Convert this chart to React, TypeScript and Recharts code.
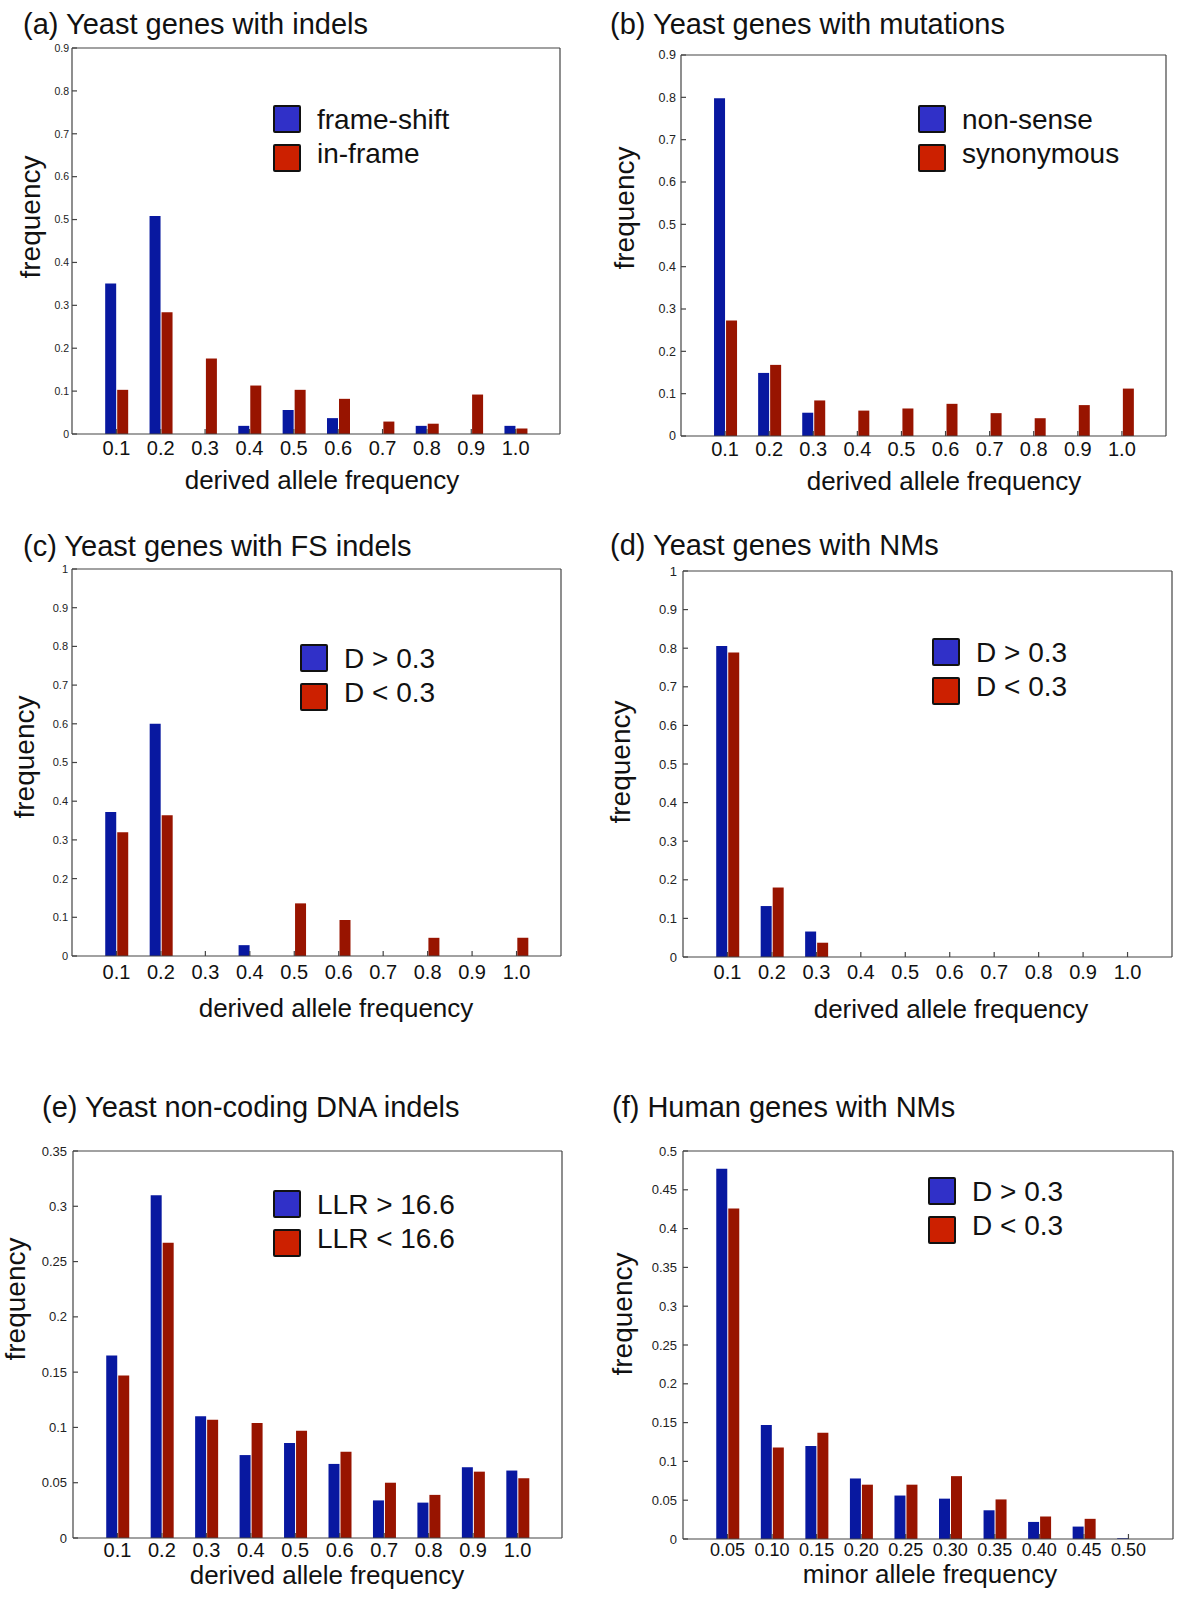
import { BarChart, Bar, XAxis, YAxis } from "recharts"

const FONT = '"Liberation Sans", Arial, Helvetica, sans-serif'
const BAR_BLUE = "#0818a0"
const BAR_RED = "#981400"
const KEY_BLUE = "#3030c8"
const KEY_RED = "#cc2000"
const AXIS = "#444"

const derivedBins = ["0.1", "0.2", "0.3", "0.4", "0.5", "0.6", "0.7", "0.8", "0.9", "1.0"]
const minorBins = ["0.05", "0.10", "0.15", "0.20", "0.25", "0.30", "0.35", "0.40", "0.45", "0.50"]

// (a) yeast genes with indels
const frameShift = [0.351, 0.508, 0, 0.019, 0.056, 0.037, 0, 0.019, 0, 0.019]
const inFrame = [0.103, 0.284, 0.176, 0.113, 0.103, 0.082, 0.029, 0.024, 0.092, 0.013]
// (b) yeast genes with mutations
const nonSense = [0.798, 0.149, 0.055, 0, 0, 0, 0, 0, 0, 0]
const synonymous = [0.273, 0.168, 0.084, 0.06, 0.065, 0.076, 0.054, 0.042, 0.073, 0.112]
// (c) yeast genes with FS indels
const fsHighD = [0.372, 0.6, 0, 0.028, 0, 0, 0, 0, 0, 0]
const fsLowD = [0.32, 0.364, 0, 0, 0.136, 0.093, 0, 0.047, 0, 0.047]
// (d) yeast genes with NMs
const nmHighD = [0.806, 0.132, 0.066, 0, 0, 0, 0, 0, 0, 0]
const nmLowD = [0.789, 0.18, 0.037, 0, 0, 0, 0, 0, 0, 0]
// (e) yeast non-coding DNA indels
const llrHigh = [0.165, 0.31, 0.11, 0.075, 0.086, 0.067, 0.034, 0.032, 0.064, 0.061]
const llrLow = [0.147, 0.267, 0.107, 0.104, 0.097, 0.078, 0.05, 0.039, 0.06, 0.054]
// (f) human genes with NMs
const humanHighD = [0.477, 0.147, 0.12, 0.078, 0.056, 0.052, 0.037, 0.022, 0.016, 0.001]
const humanLowD = [0.426, 0.118, 0.137, 0.07, 0.07, 0.081, 0.051, 0.029, 0.026, 0]

const ticks09 = [0, 0.1, 0.2, 0.3, 0.4, 0.5, 0.6, 0.7, 0.8, 0.9]
const ticks10 = [0, 0.1, 0.2, 0.3, 0.4, 0.5, 0.6, 0.7, 0.8, 0.9, 1]
const ticks035 = [0, 0.05, 0.1, 0.15, 0.2, 0.25, 0.3, 0.35]
const ticks05 = [0, 0.05, 0.1, 0.15, 0.2, 0.25, 0.3, 0.35, 0.4, 0.45, 0.5]

const fmt = (v: number) => String(Number(v.toFixed(2)))

type PanelProps = {
  box: { l: number; r: number; t: number; b: number }
  title: string
  titleAt: [number, number]
  cats: string[]
  blue: number[]
  red: number[]
  yTicks: number[]
  yFont: number
  yGap: number
  xFont: number
  xMargin: number
  keys: [string, string]
  keyAt: [number, number]
  xTitle: string
  xTitleAt: [number, number]
  yTitleAt: [number, number]
}

function Panel(p: PanelProps) {
  const w = p.box.r - p.box.l
  const h = p.box.b - p.box.t
  const padL = 60
  const padT = 10
  const padR = 10
  const padB = 40
  const rows = p.cats.map((c, i) => ({ cat: c, blue: p.blue[i], red: p.red[i] }))
  const yMax = p.yTicks[p.yTicks.length - 1]
  const pad = w / 22

  return (
    <>
      <div
        style={{
          position: "absolute",
          left: p.titleAt[0],
          top: p.titleAt[1] - 17,
          fontSize: 29,
          lineHeight: 1,
          whiteSpace: "nowrap",
          color: "#111",
        }}
      >
        {p.title}
      </div>
      <div style={{ position: "absolute", left: p.box.l - padL, top: p.box.t - padT }}>
        <BarChart
          width={w + padL + padR}
          height={h + padT + padB}
          data={rows}
          margin={{ top: padT - 1, right: padR - 1, left: 0, bottom: 0 }}
          barGap={1}
          barSize={11}
        >
          <XAxis
            xAxisId="bottom"
            dataKey="cat"
            height={padB}
            interval={0}
            padding={{ left: pad, right: pad }}
            tickSize={-5}
            tickMargin={p.xMargin}
            tick={{ fontSize: p.xFont, fill: "#111", fontFamily: FONT }}
            stroke={AXIS}
            strokeWidth={1.2}
          />
          <XAxis
            xAxisId="top"
            dataKey="cat"
            orientation="top"
            height={1}
            interval={0}
            padding={{ left: pad, right: pad }}
            tickSize={-5}
            tick={false}
            stroke={AXIS}
            strokeWidth={1.2}
          />
          <YAxis
            yAxisId="left"
            width={padL}
            domain={[0, yMax]}
            ticks={p.yTicks}
            interval={0}
            allowDataOverflow
            tickFormatter={fmt}
            tickSize={-5}
            tickMargin={5 + p.yGap}
            tick={{ fontSize: p.yFont, fill: "#222", fontFamily: FONT }}
            stroke={AXIS}
            strokeWidth={1.2}
          />
          <YAxis
            yAxisId="right"
            orientation="right"
            width={1}
            domain={[0, yMax]}
            ticks={p.yTicks}
            interval={0}
            allowDataOverflow
            tickSize={-5}
            tick={false}
            stroke={AXIS}
            strokeWidth={1.2}
          />
          <Bar xAxisId="bottom" yAxisId="left" dataKey="blue" fill={BAR_BLUE} isAnimationActive={false} />
          <Bar xAxisId="bottom" yAxisId="left" dataKey="red" fill={BAR_RED} isAnimationActive={false} />
        </BarChart>
      </div>
      <div style={{ position: "absolute", left: p.keyAt[0], top: p.keyAt[1] }}>
        {p.keys.map((k, i) => (
          <div key={k}>
            <div
              style={{
                position: "absolute",
                left: 0,
                top: i * 39,
                width: 24,
                height: 24,
                border: "2px solid #111",
                borderRadius: 2,
                background: i === 0 ? KEY_BLUE : KEY_RED,
              }}
            />
            <div
              style={{
                position: "absolute",
                left: 44,
                top: 1.4 + i * 34,
                fontSize: 28,
                lineHeight: 1,
                whiteSpace: "nowrap",
                color: "#111",
              }}
            >
              {k}
            </div>
          </div>
        ))}
      </div>
      <div
        style={{
          position: "absolute",
          left: p.xTitleAt[0],
          top: p.xTitleAt[1] - 15.2,
          transform: "translateX(-50%)",
          fontSize: 26,
          lineHeight: 1,
          whiteSpace: "nowrap",
          color: "#111",
        }}
      >
        {p.xTitle}
      </div>
      <div
        style={{
          position: "absolute",
          left: p.yTitleAt[0] - 2.4,
          top: p.yTitleAt[1],
          transform: "translate(-50%, -50%) rotate(-90deg)",
          fontSize: 28,
          lineHeight: 1,
          whiteSpace: "nowrap",
          color: "#111",
        }}
      >
        frequency
      </div>
    </>
  )
}

export default function App() {
  return (
    <div
      style={{
        position: "absolute",
        left: 0,
        top: 0,
        width: 1200,
        height: 1607,
        background: "#fff",
        fontFamily: FONT,
        overflow: "hidden",
      }}
    >
      <Panel
        box={{ l: 72, r: 560, t: 48, b: 434 }}
        title="(a) Yeast genes with indels"
        titleAt={[23, 27]}
        cats={derivedBins}
        blue={frameShift}
        red={inFrame}
        yTicks={ticks09}
        yFont={10.5}
        yGap={3}
        xFont={20}
        xMargin={12}
        keys={["frame-shift", "in-frame"]}
        keyAt={[273, 105]}
        xTitle="derived allele frequency"
        xTitleAt={[322, 482]}
        yTitleAt={[33, 217]}
      />
      <Panel
        box={{ l: 681, r: 1166, t: 55, b: 436 }}
        title="(b) Yeast genes with mutations"
        titleAt={[610, 27]}
        cats={derivedBins}
        blue={nonSense}
        red={synonymous}
        yTicks={ticks09}
        yFont={12.5}
        yGap={5}
        xFont={20}
        xMargin={11}
        keys={["non-sense", "synonymous"]}
        keyAt={[918, 105]}
        xTitle="derived allele frequency"
        xTitleAt={[944, 483]}
        yTitleAt={[627, 208]}
      />
      <Panel
        box={{ l: 72, r: 561, t: 569, b: 956 }}
        title="(c) Yeast genes with FS indels"
        titleAt={[23, 549]}
        cats={derivedBins}
        blue={fsHighD}
        red={fsLowD}
        yTicks={ticks10}
        yFont={11}
        yGap={4}
        xFont={20}
        xMargin={14}
        keys={["D > 0.3", "D < 0.3"]}
        keyAt={[300, 644]}
        xTitle="derived allele frequency"
        xTitleAt={[336, 1010]}
        yTitleAt={[27, 757]}
      />
      <Panel
        box={{ l: 683, r: 1172, t: 571, b: 957 }}
        title="(d) Yeast genes with NMs"
        titleAt={[610, 548]}
        cats={derivedBins}
        blue={nmHighD}
        red={nmLowD}
        yTicks={ticks10}
        yFont={13}
        yGap={6}
        xFont={20}
        xMargin={13}
        keys={["D > 0.3", "D < 0.3"]}
        keyAt={[932, 638]}
        xTitle="derived allele frequency"
        xTitleAt={[951, 1011]}
        yTitleAt={[623, 762]}
      />
      <Panel
        box={{ l: 73, r: 562, t: 1151, b: 1538 }}
        title="(e) Yeast non-coding DNA indels"
        titleAt={[42, 1110]}
        cats={derivedBins}
        blue={llrHigh}
        red={llrLow}
        yTicks={ticks035}
        yFont={13}
        yGap={6}
        xFont={20}
        xMargin={10}
        keys={["LLR > 16.6", "LLR < 16.6"]}
        keyAt={[273, 1190]}
        xTitle="derived allele frequency"
        xTitleAt={[327, 1577]}
        yTitleAt={[18, 1299]}
      />
      <Panel
        box={{ l: 683, r: 1173, t: 1151, b: 1539 }}
        title="(f) Human genes with NMs"
        titleAt={[612, 1110]}
        cats={minorBins}
        blue={humanHighD}
        red={humanLowD}
        yTicks={ticks05}
        yFont={13}
        yGap={6}
        xFont={18}
        xMargin={9}
        keys={["D > 0.3", "D < 0.3"]}
        keyAt={[928, 1177]}
        xTitle="minor allele frequency"
        xTitleAt={[930, 1576]}
        yTitleAt={[625, 1314]}
      />
    </div>
  )
}
